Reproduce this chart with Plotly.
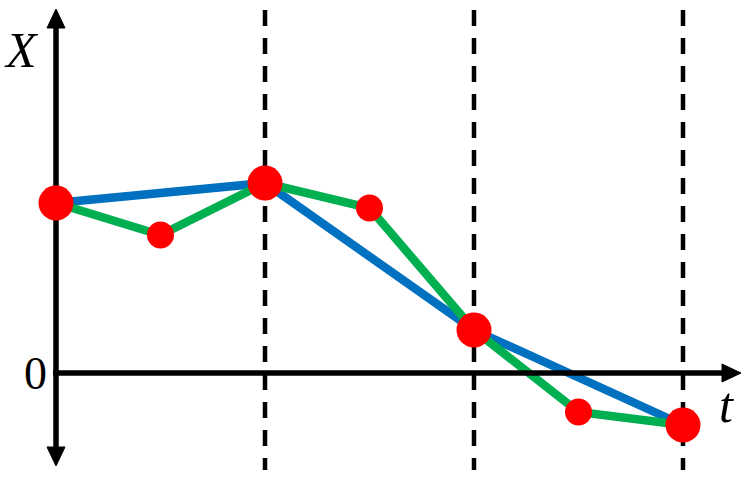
import plotly.graph_objects as go

# ---- data ----
t_coarse = [0, 1, 2, 3]
X_coarse = [1.70, 1.90, 0.43, -0.52]
t_fine = [0, 0.5, 1, 1.5, 2, 2.5, 3]
X_fine = [1.70, 1.38, 1.90, 1.65, 0.43, -0.39, -0.52]
dash_t = [1, 2, 3]

W, H = 746, 480
X0PX, TSCALE = 56, 209.0   # pixel x of t=0, px per unit t
Y0PX, XSCALE = 373, 100.0  # pixel y of X=0, px per unit X

def tx(px):
    return (px - X0PX) / TSCALE

def ty(py):
    return (Y0PX - py) / XSCALE

BLUE = "#0070C0"
GREEN = "#00B050"
RED = "#FF0000"

fig = go.Figure()

# lines
fig.add_trace(go.Scatter(x=t_coarse, y=X_coarse, mode="lines",
                         line=dict(color=BLUE, width=8.5), hoverinfo="skip"))
fig.add_trace(go.Scatter(x=t_fine, y=X_fine, mode="lines",
                         line=dict(color=GREEN, width=8.5), hoverinfo="skip"))

# axes (drawn as traces so they sit above lines but below markers)
fig.add_trace(go.Scatter(x=[tx(56), tx(56)], y=[ty(25), ty(450)], mode="lines",
                         line=dict(color="black", width=5.5), hoverinfo="skip"))
fig.add_trace(go.Scatter(x=[tx(53), tx(725)], y=[ty(373), ty(373)], mode="lines",
                         line=dict(color="black", width=5.5), hoverinfo="skip"))
# arrow heads
for xs, ys in [
    ([56, 47, 65, 56], [9, 28, 28, 9]),
    ([56, 47, 65, 56], [466, 447, 447, 466]),
    ([741, 722, 722, 741], [373, 364, 382, 373]),
]:
    fig.add_trace(go.Scatter(x=[tx(v) for v in xs], y=[ty(v) for v in ys],
                             mode="lines", fill="toself", fillcolor="black",
                             line=dict(color="black", width=1), hoverinfo="skip"))

# markers
small_t = [t for t in t_fine if t not in t_coarse]
small_X = [x for t, x in zip(t_fine, X_fine) if t not in t_coarse]
fig.add_trace(go.Scatter(x=small_t, y=small_X, mode="markers",
                         marker=dict(color=RED, size=27, line=dict(width=0)),
                         hoverinfo="skip"))
fig.add_trace(go.Scatter(x=t_coarse, y=X_coarse, mode="markers",
                         marker=dict(color=RED, size=35, line=dict(width=0)),
                         hoverinfo="skip"))

# dashed verticals
for t in dash_t:
    fig.add_shape(type="line", x0=t, x1=t, y0=ty(10), y1=ty(470),
                  xref="x", yref="y", layer="below",
                  line=dict(color="black", width=4.5, dash="16px,12px"))

serif = "Liberation Serif, Times New Roman, serif"
fig.add_annotation(x=tx(21), y=ty(50), text="<i>X</i>", showarrow=False,
                   font=dict(family=serif, size=50, color="black"),
                   xanchor="center", yanchor="middle")
fig.add_annotation(x=tx(35), y=ty(373), text="0", showarrow=False,
                   font=dict(family=serif, size=46, color="black"),
                   xanchor="center", yanchor="middle")
fig.add_annotation(x=tx(726), y=ty(405), text="<i>t</i>", showarrow=False,
                   font=dict(family=serif, size=50, color="black"),
                   xanchor="center", yanchor="middle")

fig.update_layout(
    width=W, height=H, margin=dict(l=0, r=0, t=0, b=0),
    showlegend=False, plot_bgcolor="white", paper_bgcolor="white",
    xaxis=dict(range=[tx(0), tx(W)], visible=False, fixedrange=True),
    yaxis=dict(range=[ty(H), ty(0)], visible=False, fixedrange=True),
)

fig.write_html("out.html", config=dict(displayModeBar=False),
               post_script="document.body.style.margin='0';document.body.style.overflow='hidden';")
